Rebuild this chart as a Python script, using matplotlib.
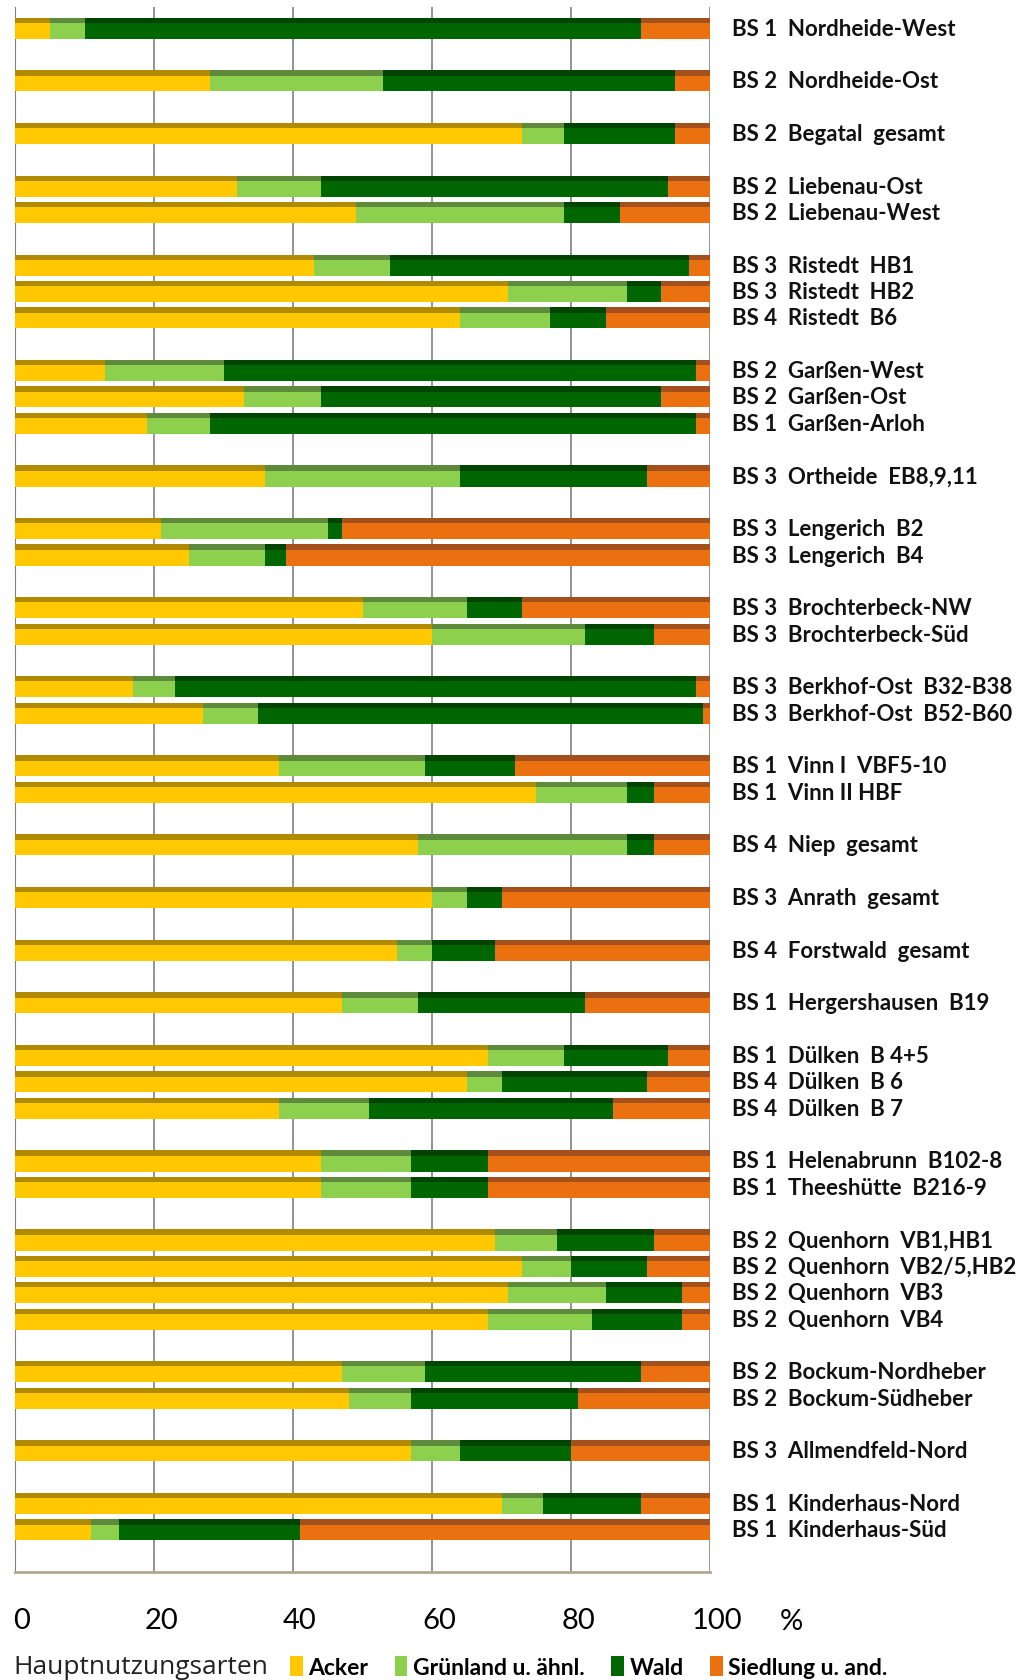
import numpy as np
import matplotlib.pyplot as plt
import matplotlib.transforms as mtrans
from matplotlib.patches import Patch

plt.rcParams['font.family'] = ['Lato', 'DejaVu Sans']

labels = ["BS 1  Nordheide-West", "BS 2  Nordheide-Ost", "BS 2  Begatal  gesamt",
          "BS 2  Liebenau-Ost", "BS 2  Liebenau-West",
          "BS 3  Ristedt  HB1", "BS 3  Ristedt  HB2", "BS 4  Ristedt  B6",
          "BS 2  Garßen-West", "BS 2  Garßen-Ost", "BS 1  Garßen-Arloh",
          "BS 3  Ortheide  EB8,9,11",
          "BS 3  Lengerich  B2", "BS 3  Lengerich  B4",
          "BS 3  Brochterbeck-NW", "BS 3  Brochterbeck-Süd",
          "BS 3  Berkhof-Ost  B32-B38", "BS 3  Berkhof-Ost  B52-B60",
          "BS 1  Vinn I  VBF5-10", "BS 1  Vinn II HBF",
          "BS 4  Niep  gesamt", "BS 3  Anrath  gesamt", "BS 4  Forstwald  gesamt",
          "BS 1  Hergershausen  B19",
          "BS 1  Dülken  B 4+5", "BS 4  Dülken  B 6", "BS 4  Dülken  B 7",
          "BS 1  Helenabrunn  B102-8", "BS 1  Theeshütte  B216-9",
          "BS 2  Quenhorn  VB1,HB1", "BS 2  Quenhorn  VB2/5,HB2",
          "BS 2  Quenhorn  VB3", "BS 2  Quenhorn  VB4",
          "BS 2  Bockum-Nordheber", "BS 2  Bockum-Südheber",
          "BS 3  Allmendfeld-Nord",
          "BS 1  Kinderhaus-Nord", "BS 1  Kinderhaus-Süd"]

# number of bars per block (blocks separated by one empty row)
groups = [1, 1, 1, 2, 3, 3, 1, 2, 2, 2, 2, 1, 1, 1, 1, 3, 2, 4, 2, 1, 2]

acker = [5, 28, 73, 32, 49, 43, 71, 64, 13, 33, 19, 36, 21, 25, 50, 60, 17, 27, 38,
         75, 58, 60, 55, 47, 68, 65, 38, 44, 44, 69, 73, 71, 68, 47, 48, 57, 70, 11]
gruen = [5, 25, 6, 12, 30, 11, 17, 13, 17, 11, 9, 28, 24, 11, 15, 22, 6, 8, 21,
         13, 30, 5, 5, 11, 11, 5, 13, 13, 13, 9, 7, 14, 15, 12, 9, 7, 6, 4]
wald = [80, 42, 16, 50, 8, 43, 5, 8, 68, 49, 70, 27, 2, 3, 8, 10, 75, 64, 13,
        4, 4, 5, 9, 24, 15, 21, 35, 11, 11, 14, 11, 11, 13, 31, 24, 16, 14, 26]
siedlung = [10, 5, 5, 6, 13, 3, 7, 15, 2, 7, 2, 9, 53, 61, 27, 8, 2, 1, 28,
            8, 8, 30, 31, 18, 6, 9, 14, 32, 32, 8, 9, 4, 4, 10, 19, 20, 10, 59]

series = ["Acker", "Grünland u. ähnl.", "Wald", "Siedlung u. and."]
colors = ["#FFC800", "#8CD04E", "#006600", "#EA7010"]
tops = ["#B08A00", "#5E8A3C", "#004400", "#A4501C"]

# y positions: consecutive rows, one empty row between blocks
ypos = []
row = 0
for g in groups:
    for i in range(g):
        ypos.append(row)
        row += 1
    row += 1
ypos = np.array(ypos)
nrows = row - 1

fig = plt.figure(figsize=(10.21, 16.81), dpi=100)
ax = fig.add_axes([15 / 1021, 1 - 1573 / 1681, 695 / 1021, (1573 - 8) / 1681])

h = 0.8
left = np.zeros(len(labels))
for vals, c, tc in zip([acker, gruen, wald, siedlung], colors, tops):
    vals = np.array(vals, dtype=float)
    ax.barh(ypos, vals, left=left, height=h, color=c, edgecolor='none', zorder=3)
    # darker strip on top -> pseudo 3D face
    ax.barh(ypos - h / 2 + 0.1, vals, left=left, height=0.2, color=tc,
            edgecolor='none', zorder=4)
    left += vals

for yy, lab in zip(ypos, labels):
    ax.text(103.2, yy, lab, fontsize=16, fontweight='bold', va='center',
            ha='left', color='#111111', clip_on=False)

ax.set_xlim(0, 100)
ax.set_ylim(nrows + 0.6, -0.8)
ax.set_yticks([])
ax.set_xticks([0, 20, 40, 60, 80, 100])
ax.set_xticklabels(["0", "20", "40", "60", "80", "100"], fontsize=21)
ax.tick_params(axis='x', length=0, pad=25)
shift = mtrans.ScaledTranslation(0.07, 0, fig.dpi_scale_trans)
for t in ax.get_xticklabels():
    t.set_transform(t.get_transform() + shift)
ax.grid(axis='x', color='#808080', linewidth=1.2, zorder=0)
ax.set_axisbelow(True)
for s in ['top', 'right']:
    ax.spines[s].set_visible(False)
ax.spines['left'].set_color('#808080')
ax.spines['bottom'].set_color('#b0a890')
ax.spines['bottom'].set_linewidth(2)

fig.text(791 / 1021, 1 - 1622 / 1681, "%", fontsize=21, ha='center', va='center')

fig.text(13 / 1021, 1 - 1668 / 1681, "Hauptnutzungsarten", fontsize=19,
         family=['Open Sans', 'DejaVu Sans'], va='center', ha='left',
         color='#222222')
handles = [Patch(facecolor=c, edgecolor='none') for c in colors]
leg = fig.legend(handles, series, loc='center left',
                 bbox_to_anchor=(281 / 1021, 1 - 1668 / 1681), ncol=4,
                 frameon=False, handlelength=0.55, handleheight=1.0,
                 handletextpad=0.25, columnspacing=1.15, borderaxespad=0,
                 prop={'size': 16.5, 'weight': 'bold'})

fig.savefig("out.png", dpi=100, facecolor='white')
